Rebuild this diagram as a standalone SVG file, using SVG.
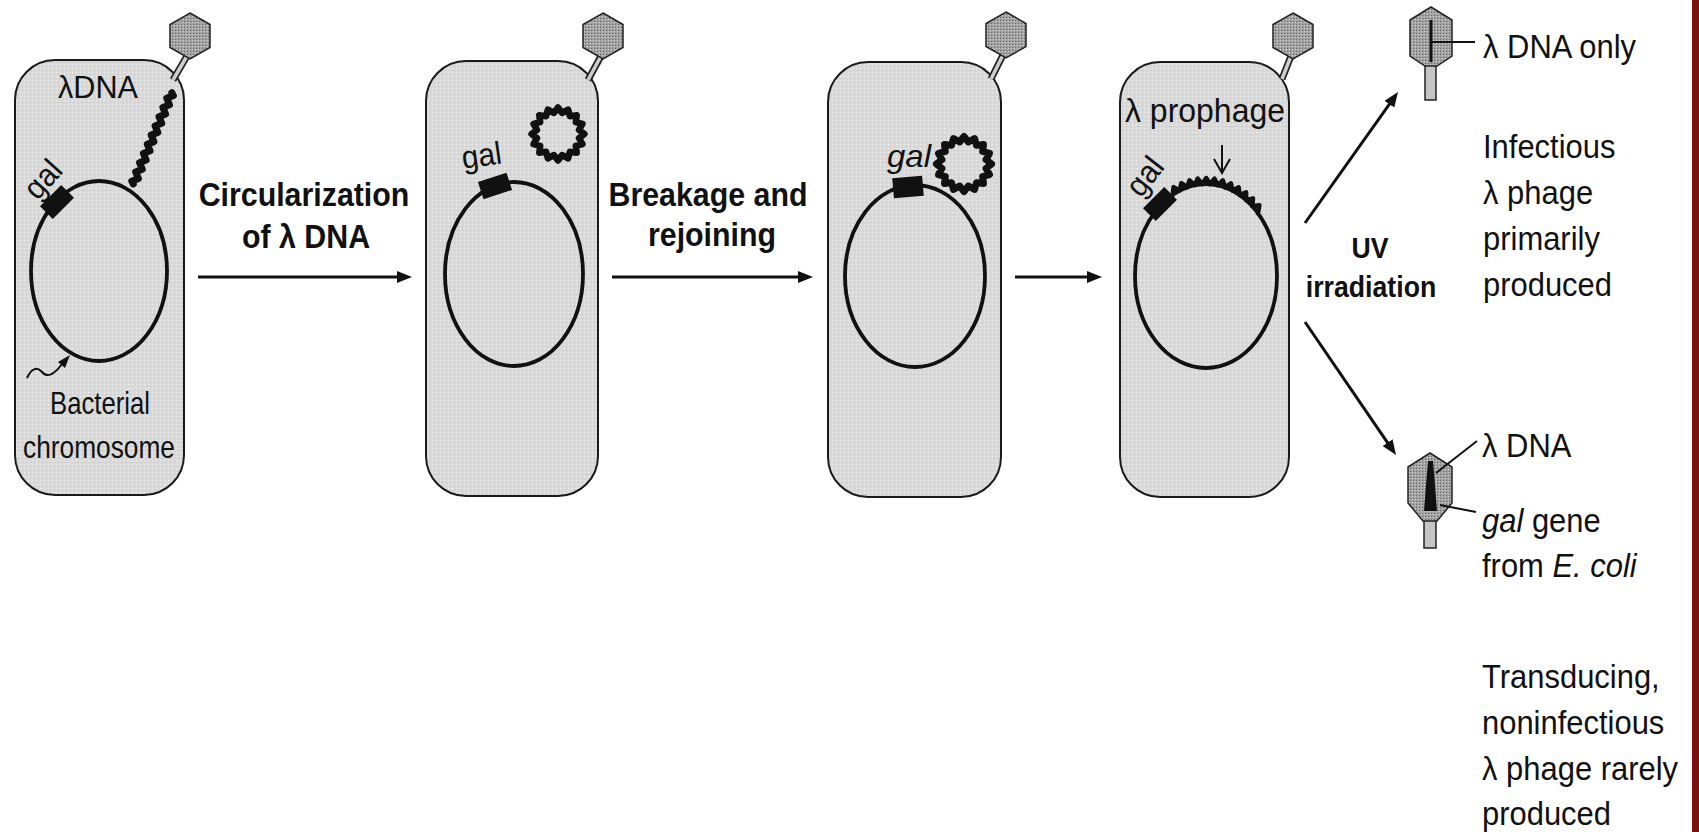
<svg xmlns="http://www.w3.org/2000/svg" width="1699" height="832" viewBox="0 0 1699 832">
  <defs>
    <!-- stippled cytoplasm -->
    <pattern id="stipple" width="4" height="4" patternUnits="userSpaceOnUse">
      <rect width="4" height="4" fill="#dadada"/>
      <rect width="1" height="1" fill="#eeeeee"/>
      <rect x="2" y="2" width="1" height="1" fill="#c5c5c5"/>
    </pattern>
    <!-- capsid texture -->
    <pattern id="capsid" width="3" height="3" patternUnits="userSpaceOnUse">
      <rect width="3" height="3" fill="#a2a2a2"/>
      <rect width="1" height="1" fill="#686868"/>
      <rect x="2" y="1" width="1" height="1" fill="#cfcfcf"/>
    </pattern>
    <marker id="arrow" viewBox="0 0 15 12" refX="2" refY="6" markerWidth="15" markerHeight="12" markerUnits="userSpaceOnUse" orient="auto">
      <path d="M0,0 L15,6 L0,12 z" fill="#111"/>
    </marker>
    <!-- phage head (hexagon) -->
    <polygon id="hex" points="0,-23 20,-11.5 20,11.5 0,23 -20,11.5 -20,-11.5" fill="url(#capsid)" stroke="#222" stroke-width="1.5"/>
    <!-- circular lambda DNA -->
    <polygon id="ring" points="24,0 19.13,3.81 22.17,9.18 16.22,10.84 16.97,16.97 10.84,16.22 9.18,22.17 3.81,19.13 0,24 -3.81,19.13 -9.18,22.17 -10.84,16.22 -16.97,16.97 -16.22,10.84 -22.17,9.18 -19.13,3.81 -24,0 -19.13,-3.81 -22.17,-9.18 -16.22,-10.84 -16.97,-16.97 -10.84,-16.22 -9.18,-22.17 -3.81,-19.13 0,-24 3.81,-19.13 9.18,-22.17 10.84,-16.22 16.97,-16.97 16.22,-10.84 22.17,-9.18 19.13,-3.81" fill="none" stroke="#111" stroke-width="6" stroke-linejoin="round"/>
  </defs>
  <style>
    .cell{fill:url(#stipple);stroke:#1a1a1a;stroke-width:2}
    .chrom{fill:none;stroke:#111;stroke-width:3.8}
    .gal{fill:#111}
    .dna{fill:none;stroke:#111;stroke-width:7;stroke-linejoin:round;stroke-linecap:round}
    .tail-o{stroke:#222;stroke-width:7}
    .tail-i{stroke:#cdcdcd;stroke-width:3.5}
    .thin{stroke:#111;stroke-width:2;fill:none}
    text{font-family:"Liberation Sans",Arial,Helvetica,sans-serif;fill:#111}
    .step{font-weight:bold;font-size:33px;text-anchor:middle}
    .lab{font-size:32px}
    .note{font-size:34px}
    .it{font-style:italic}
    .conn{stroke:#111;stroke-width:3;fill:none;marker-end:url(#arrow)}
  </style>

  <rect width="1699" height="832" fill="#ffffff"/>
  <!-- page edge -->
  <rect x="1692" y="0" width="7" height="832" fill="#781010"/>

  <!-- cell 1: phage injects linear lambda DNA -->
  <g id="cell1">
    <rect class="cell" x="15" y="60" width="169" height="435" rx="40"/>
    <line class="tail-o" x1="187" y1="56" x2="173" y2="80"/>
    <line class="tail-i" x1="187" y1="56" x2="173" y2="80"/>
    <use href="#hex" x="190" y="36"/>
    <ellipse class="chrom" cx="99" cy="271" rx="68" ry="90"/>
    <rect class="gal" x="-15" y="-9" width="30" height="18" transform="translate(57,202) rotate(-45)"/>
    <text class="lab" text-anchor="middle" transform="translate(45,181) rotate(-48)" y="8" textLength="40" lengthAdjust="spacingAndGlyphs">gal</text>
    <text class="lab" x="58" y="98" textLength="80" lengthAdjust="spacingAndGlyphs">λDNA</text>
    <path class="dna" transform="translate(173,90) rotate(112.9)" d="M3 0 L5 -2.5 L10 2.5 L15 -2.5 L20 2.5 L25 -2.5 L30 2.5 L35 -2.5 L40 2.5 L45 -2.5 L50 2.5 L55 -2.5 L60 2.5 L65 -2.5 L70 2.5 L75 -2.5 L80 2.5 L85 -2.5 L90 2.5 L95 -2.5 L100 2.5 L102 0"/>
    <path class="thin" d="M27 378 C31 369 37 366 42 372 C47 378 54 375 62 364"/>
    <polygon points="70,355 58,362 65,368" fill="#111"/>
    <text class="lab" text-anchor="middle" x="100" y="414" textLength="100" lengthAdjust="spacingAndGlyphs">Bacterial</text>
    <text class="lab" text-anchor="middle" x="99" y="458" textLength="152" lengthAdjust="spacingAndGlyphs">chromosome</text>
  </g>

  <!-- cell 2: lambda DNA circularized -->
  <g id="cell2">
    <rect class="cell" x="426" y="61" width="172" height="435" rx="40"/>
    <line class="tail-o" x1="601" y1="56" x2="588" y2="80"/>
    <line class="tail-i" x1="601" y1="56" x2="588" y2="80"/>
    <use href="#hex" x="603" y="36"/>
    <ellipse class="chrom" cx="514" cy="274" rx="69" ry="92"/>
    <rect class="gal" x="-15" y="-9" width="30" height="18" transform="translate(495,186) rotate(-18)"/>
    <text class="lab" text-anchor="middle" transform="translate(483,166) rotate(-8)" textLength="40" lengthAdjust="spacingAndGlyphs">gal</text>
    <use href="#ring" transform="translate(558,134) scale(1.1)"/>
  </g>

  <!-- cell 3: circle pairs with chromosome -->
  <g id="cell3">
    <rect class="cell" x="828" y="62" width="173" height="435" rx="40"/>
    <line class="tail-o" x1="1003" y1="55" x2="991" y2="79"/>
    <line class="tail-i" x1="1003" y1="55" x2="991" y2="79"/>
    <use href="#hex" x="1006" y="35"/>
    <ellipse class="chrom" cx="915" cy="276" rx="70" ry="91"/>
    <rect class="gal" x="-15" y="-10" width="30" height="20" transform="translate(908,187) rotate(-5)"/>
    <text class="lab it" text-anchor="middle" x="909" y="167" textLength="44" lengthAdjust="spacingAndGlyphs">gal</text>
    <use href="#ring" transform="translate(964,164) scale(1.15)"/>
  </g>

  <!-- cell 4: integrated prophage -->
  <g id="cell4">
    <rect class="cell" x="1120" y="62" width="169" height="435" rx="40"/>
    <line class="tail-o" x1="1291" y1="56" x2="1282" y2="79"/>
    <line class="tail-i" x1="1291" y1="56" x2="1282" y2="79"/>
    <use href="#hex" x="1293" y="36"/>
    <ellipse class="chrom" cx="1206" cy="276" rx="71" ry="92"/>
    <polyline class="dna" style="stroke-width:4.5" points="1172.7,194.8 1173.6,187.1 1179.7,190.5 1181.4,183.1 1187,187.4 1189.5,180.3 1194.6,185.2 1197.8,178.6 1202.3,184.1 1206.2,178 1210,184.1 1214.5,178.6 1217.7,185.3 1222.8,180.4 1225.3,187.4 1230.9,183.3 1232.6,190.7 1238.7,187.3 1239.6,195 1246.1,192.3 1246.2,200.2 1253,198.4 1252.3,206.3 1259.4,205.3 1257.9,213.3"/>
    <rect class="gal" x="-15" y="-9" width="30" height="18" transform="translate(1160,204) rotate(-45)"/>
    <text class="lab" text-anchor="middle" transform="translate(1147,178) rotate(-52)" y="8" textLength="40" lengthAdjust="spacingAndGlyphs">gal</text>
    <text class="lab" style="font-size:34px" x="1125" y="122" textLength="160" lengthAdjust="spacingAndGlyphs">λ prophage</text>
    <line class="thin" x1="1222" y1="145" x2="1222" y2="172"/>
    <polyline class="thin" points="1214,159 1222,173 1230,159"/>
  </g>

  <!-- progeny phage carrying lambda DNA only -->
  <g id="phage-infectious">
    <rect x="1425" y="62" width="11" height="38" fill="#c4c4c4" stroke="#222" stroke-width="1.5"/>
    <polygon points="1431,7 1452,20 1452,56 1437,66 1425,66 1410,56 1410,20" fill="url(#capsid)" stroke="#222" stroke-width="1.5"/>
    <line x1="1431" y1="20" x2="1431" y2="62" stroke="#111" stroke-width="3"/>
    <line x1="1431" y1="42" x2="1475" y2="42" stroke="#111" stroke-width="2"/>
    <g transform="translate(1483,0) scale(0.91,1)">
      <text class="note" x="0" y="58">λ DNA only</text>
      <text class="note" x="0" y="158">Infectious</text>
      <text class="note" x="0" y="204">λ phage</text>
      <text class="note" x="0" y="250">primarily</text>
      <text class="note" x="0" y="296">produced</text>
    </g>
  </g>

  <!-- transducing phage carrying gal -->
  <g id="phage-transducing">
    <rect x="1424" y="518" width="12" height="30" fill="#c4c4c4" stroke="#222" stroke-width="1.5"/>
    <polygon points="1430,453 1452,467 1452,503 1437,521 1423,521 1408,503 1408,467" fill="url(#capsid)" stroke="#222" stroke-width="1.5"/>
    <polygon points="1428,461 1433,461 1435,485 1437,511 1424,511 1426,485" fill="#111"/>
    <line x1="1436" y1="473" x2="1477" y2="441" stroke="#111" stroke-width="2"/>
    <line x1="1440" y1="505" x2="1476" y2="512" stroke="#111" stroke-width="2"/>
    <g transform="translate(1482,0) scale(0.91,1)">
      <text class="note" x="0" y="457">λ DNA</text>
      <text class="note" x="0" y="532"><tspan class="it">gal</tspan> gene</text>
      <text class="note" x="0" y="577">from <tspan class="it">E. coli</tspan></text>
      <text class="note" x="0" y="688">Transducing,</text>
      <text class="note" x="0" y="734">noninfectious</text>
      <text class="note" x="0" y="780">λ phage rarely</text>
      <text class="note" x="0" y="825">produced</text>
    </g>
  </g>

  <!-- step labels -->
  <g id="labels">
    <text class="step" transform="translate(304,206) scale(0.92,1)">Circularization</text>
    <text class="step" transform="translate(306,248) scale(0.92,1)">of λ DNA</text>
    <text class="step" transform="translate(708,206) scale(0.92,1)">Breakage and</text>
    <text class="step" transform="translate(712,246) scale(0.92,1)">rejoining</text>
    <text class="step" style="font-size:29px" transform="translate(1370,258) scale(0.92,1)">UV</text>
    <text class="step" style="font-size:29px" transform="translate(1371,297) scale(0.92,1)">irradiation</text>
  </g>

  <!-- connectors -->
  <g id="connectors">
    <line class="conn" x1="198" y1="277" x2="399" y2="277"/>
    <line class="conn" x1="612" y1="277" x2="800" y2="277"/>
    <line class="conn" x1="1015" y1="277" x2="1089" y2="277"/>
    <line class="conn" x1="1305" y1="223" x2="1390.5" y2="102.6"/>
    <line class="conn" x1="1305" y1="322" x2="1388.7" y2="444.3"/>
  </g>
</svg>
